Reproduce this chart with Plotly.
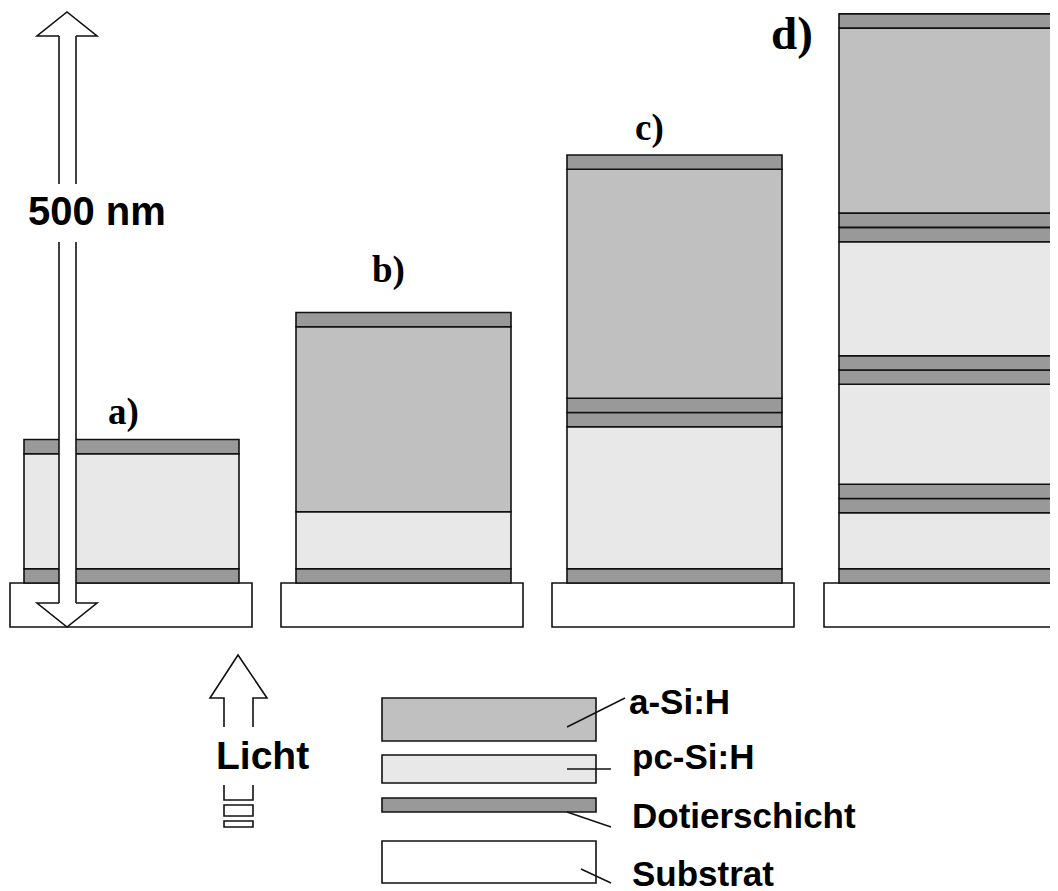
import plotly.graph_objects as go

# ------------------------------------------------------------------ data
stack_labels = ["a)", "b)", "c)", "d)"]

# layer sequence of each stack, from the substrate upwards
stack_layers = [
    ["Dotierschicht", "pc-Si:H", "Dotierschicht"],
    ["Dotierschicht", "pc-Si:H", "a-Si:H", "Dotierschicht"],
    ["Dotierschicht", "pc-Si:H", "Dotierschicht", "Dotierschicht", "a-Si:H", "Dotierschicht"],
    ["Dotierschicht", "pc-Si:H", "Dotierschicht", "Dotierschicht", "pc-Si:H", "Dotierschicht",
     "Dotierschicht", "pc-Si:H", "Dotierschicht", "Dotierschicht", "a-Si:H", "Dotierschicht"],
]
# layer thicknesses in nm (same order)
stack_thickness_nm = [
    [11.6, 93.5, 11.6],
    [11.6, 46.3, 150.4, 11.6],
    [11.6, 115.4, 11.6, 11.6, 186.2, 11.6],
    [11.6, 45.5, 11.6, 11.6, 81.3, 11.6, 11.6, 92.7, 11.6, 11.6, 150.4, 11.6],
]
legend_materials = ["a-Si:H", "pc-Si:H", "Dotierschicht", "Substrat"]
scale_bar_nm = 500
scale_label = "500 nm"
light_label = "Licht"

# ------------------------------------------------------------------ styles / layout
W, H = 1058, 891
OFF = 8                   # default page margin of the browser body
PX_PER_NM = 1.23          # drawing scale
Y0_PX = 583               # pixel row of the substrate surface
SUB_NM = 44 / PX_PER_NM   # drawn substrate thickness

fill = {"a-Si:H": "#c0c0c0", "pc-Si:H": "#e8e8e8", "Dotierschicht": "#999999", "Substrat": "#ffffff"}
LINE = dict(color="#111111", width=1.6)

stack_left = [24, 296, 567, 839]
stack_width = 215
sub_left = [10, 281, 552, 824]
sub_width = 242
label_pos = [(123, 412), (388, 270), (649, 128), (792, 33)]
label_size = [37, 37, 37, 47]


def ny(px):
    """pixel row -> nm on the y axis"""
    return (Y0_PX - px) / PX_PER_NM


shapes = []
annotations = []


def rect(x0, x1, y0, y1, color, line=LINE):
    shapes.append(dict(type="rect", xref="x", yref="y", x0=x0, x1=x1, y0=y0, y1=y1,
                       fillcolor=color, line=line, layer="above"))


def path(d, color="rgba(0,0,0,0)", line=LINE):
    shapes.append(dict(type="path", xref="x", yref="y", path=d, fillcolor=color,
                       line=line, layer="above"))


def P(pts, close=False):
    s = " ".join(("M" if i == 0 else "L") + f" {x},{ny(y)}" for i, (x, y) in enumerate(pts))
    return s + (" Z" if close else "")


# stacks
for i, (mats, th) in enumerate(zip(stack_layers, stack_thickness_nm)):
    rect(sub_left[i], sub_left[i] + sub_width, -SUB_NM, 0, fill["Substrat"])
    y = 0.0
    for m, t in zip(mats, th):
        rect(stack_left[i], stack_left[i] + stack_width, y, y + t, fill[m])
        y += t
    lx, ly = label_pos[i]
    annotations.append(dict(x=lx, y=ny(ly), xref="x", yref="y", text=f"<b>{stack_labels[i]}</b>",
                            showarrow=False, xanchor="center", yanchor="middle",
                            font=dict(family="Liberation Serif", size=label_size[i], color="black")))

# 500 nm double arrow (from substrate bottom upwards)
y_bot_nm = -SUB_NM
y_top_nm = y_bot_nm + scale_bar_nm
tip_top = Y0_PX - y_top_nm * PX_PER_NM
tip_bot = Y0_PX - y_bot_nm * PX_PER_NM
head = 24
xl, xr, hl, hr, xc = 59, 76, 37, 97, 67
poly = [(xc, tip_top), (hr, tip_top + head), (xr, tip_top + head), (xr, tip_bot - head),
        (hr, tip_bot - head), (xc, tip_bot), (hl, tip_bot - head), (xl, tip_bot - head),
        (xl, tip_top + head), (hl, tip_top + head)]
path(P(poly, close=True), color="white", line=dict(width=0, color="rgba(0,0,0,0)"))
gap0, gap1 = 184, 242
path(P([(xl, tip_top + head), (hl, tip_top + head), (xc, tip_top), (hr, tip_top + head),
        (xr, tip_top + head)]))
path(P([(xl, tip_top + head), (xl, gap0)]))
path(P([(xr, tip_top + head), (xr, gap0)]))
path(P([(xl, gap1), (xl, tip_bot - head)]))
path(P([(xr, gap1), (xr, tip_bot - head)]))
path(P([(xl, tip_bot - head), (hl, tip_bot - head), (xc, tip_bot), (hr, tip_bot - head),
        (xr, tip_bot - head)]))
annotations.append(dict(x=97, y=ny(211), xref="x", yref="y", text=f"<b>{scale_label}</b>",
                        showarrow=False, xanchor="center", yanchor="middle",
                        font=dict(family="Liberation Sans", size=40, color="black")))

# light arrow
path(P([(224, 727), (224, 698), (210, 698), (238, 655), (267, 698), (253, 698), (253, 727)]),
     color="rgba(0,0,0,0)")
path(P([(224, 785), (224, 800), (253, 800), (253, 785)]))
path(P([(224, 805), (253, 805), (253, 816), (224, 816)], close=True), color="white")
path(P([(224, 821), (253, 821), (253, 827), (224, 827)], close=True), color="white")
annotations.append(dict(x=262, y=ny(755), xref="x", yref="y", text=f"<b>{light_label}</b>",
                        showarrow=False, xanchor="center", yanchor="middle",
                        font=dict(family="Liberation Sans", size=39, color="black")))

# legend
leg_rows = [(698, 741), (755, 783), (798, 812), (841, 883)]
leg_lines = [[(567, 727), (625, 698)], [(567, 769), (611, 769)],
             [(567, 812), (611, 827)], [(581, 869), (611, 883)]]
leg_text_y = [701, 756, 815, 873]
leg_text_x = [627, 630, 630, 630]
for m, (t, b), ln, ty, tx in zip(legend_materials, leg_rows, leg_lines, leg_text_y, leg_text_x):
    rect(382, 596, ny(b), ny(t), fill[m])
    path(P(ln), line=dict(color="#111111", width=1.4))
    annotations.append(dict(x=tx, y=ny(ty), xref="x", yref="y", text=f"<b>{m}</b>",
                            showarrow=False, xanchor="left", yanchor="middle",
                            font=dict(family="Liberation Sans", size=35, color="black")))

fig = go.Figure(go.Scatter(x=[], y=[], hoverinfo="skip", showlegend=False))
fig.update_layout(
    width=W - OFF, height=H - OFF, margin=dict(l=0, r=0, t=0, b=0),
    paper_bgcolor="white", plot_bgcolor="white", showlegend=False,
    xaxis=dict(range=[OFF, W], visible=False, fixedrange=True),
    yaxis=dict(range=[ny(H), ny(OFF)], visible=False, fixedrange=True),
    shapes=shapes, annotations=annotations,
)
fig.write_html("out.html")
